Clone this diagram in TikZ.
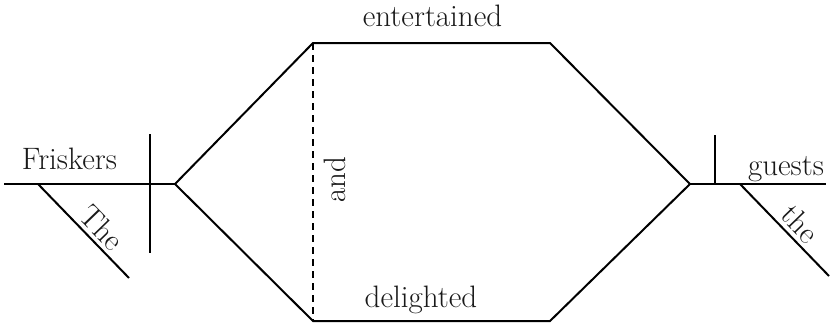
\documentclass[tikz,border=0pt]{standalone}
\usepackage{fontspec}
\setmainfont{Latin Modern Roman}
\begin{document}
\begin{tikzpicture}[x=1pt,y=-1pt,
  ln/.style={line width=2pt, line cap=butt},
  dln/.style={line width=2pt, dash pattern=on 7pt off 5pt},
  word/.style={font=\fontsize{31}{36}\selectfont, inner sep=0pt, text=black!90}]
\useasboundingbox (0,0) rectangle (830,324);
% coordinates
\coordinate (L0) at (4,184);
\coordinate (L1) at (175,184);
\coordinate (D1t) at (150,134);
\coordinate (D1b) at (150,253);
\coordinate (M1) at (38,184);
\coordinate (M1e) at (129,278);
\coordinate (TL) at (313,43);
\coordinate (TR) at (550,43);
\coordinate (BL) at (313,321);
\coordinate (BR) at (550,321);
\coordinate (R0) at (690,184);
\coordinate (R1) at (826,184);
\coordinate (D2t) at (715,135);
\coordinate (D2b) at (715,184);
\coordinate (M2) at (740,184);
\coordinate (M2e) at (829,276);
% lines
\draw[ln] (L0) -- (L1);
\draw[ln] (D1t) -- (D1b);
\draw[ln] (M1) -- (M1e) node[word, sloped, pos=0.58, anchor=south, yshift=4pt] (the1) {The};
\draw[ln] (L1) -- (TL) -- (TR) -- (R0);
\draw[ln] (L1) -- (BL) -- (BR) -- (R0);
\draw[dln] (TL) -- (BL);
\draw[ln] (R0) -- (R1);
\draw[ln] (D2t) -- (D2b);
\draw[ln] (M2) -- (M2e) node[word, sloped, pos=0.55, anchor=south, yshift=4pt] (the2) {the};
% words
\node[word, anchor=base] (friskers) at (69.5,169) {Friskers};
\node[word, anchor=base] (ent) at (432.5,27) {entertained};
\node[word, anchor=base] (del) at (421,307) {delighted};
\node[word, anchor=base] (guests) at (786,175) {guests};
\node[word, anchor=base, rotate=90] (and) at (345,180) {and};
\end{tikzpicture}
\end{document}
